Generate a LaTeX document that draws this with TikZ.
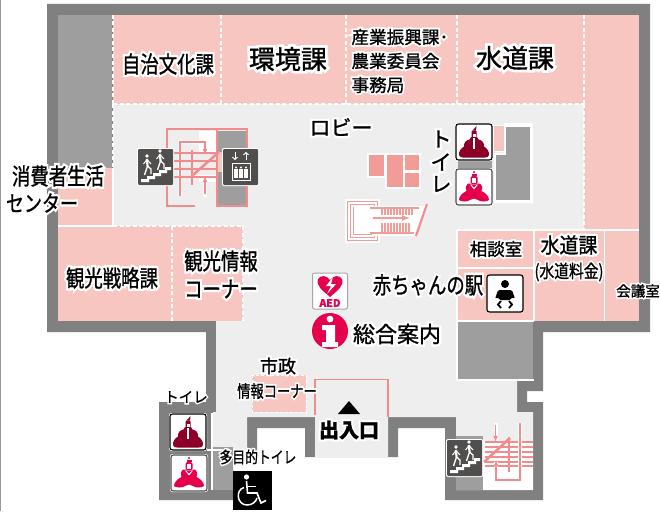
\documentclass[tikz,border=0pt]{standalone}
\usepackage{fontspec}
\usepackage{graphicx}
\setmainfont[FakeBold=1.2]{Noto Sans CJK JP}
\newfontfamily\halofont[FakeBold=22]{Noto Sans CJK JP}
\usetikzlibrary{arrows.meta}
\definecolor{wallc}{HTML}{808080}
\definecolor{roomg}{HTML}{9D9E9D}
\definecolor{pinkc}{HTML}{F8C6C1}
\definecolor{lobbyc}{HTML}{EEEEEE}
\definecolor{stairc}{HTML}{F28B8B}
\definecolor{blockc}{HTML}{F29C97}
\definecolor{icond}{HTML}{504F4D}
\definecolor{malec}{HTML}{8C0028}
\definecolor{femc}{HTML}{E6004C}
\newcommand\hl[1]{\leavevmode\rlap{\color{white}\halofont #1}#1}
\newcommand\hc[1]{\hl{\scalebox{.8}[1]{#1}}}
\newcommand\fs[1]{\fontsize{#1}{#1}\selectfont}
\tikzset{
  txt/.style={inner sep=0pt,outer sep=0pt,text=black,align=center},
  dashw/.style={white,line width=1.6pt,dash pattern=on 4pt off 2.5pt},
  solidw/.style={white,line width=1.8pt},
  stl/.style={stairc,line width=1.4pt},
  stk/.style={stairc,line width=2.6pt},
}
\newcommand\stairsicon[2]{\begin{scope}[shift={(#1,#2)}]
  \fill[white,rounded corners=2pt] (-1,-1) rectangle (36,37);
  \fill[icond,rounded corners=1pt] (0,0) rectangle (35,36);
  \fill[white] (3,33) -- (3,30) -- (9,30) -- (9,27) -- (15,27) -- (15,24) -- (21,24) -- (21,21) -- (27,21) -- (27,18) -- (33,18) -- (33,21) -- (29,21) -- (29,24) -- (23,24) -- (23,27) -- (17,27) -- (17,30) -- (11,30) -- (11,33) -- cycle;
  \foreach \px/\py in {9/7,22/2}{
    \fill[white] (\px,\py) circle (1.9);
    \draw[white,line width=2.2pt] (\px,\py+3) -- (\px+.5,\py+10);
    \draw[white,line width=1.3pt] (\px+.5,\py+10) -- (\px-2.5,\py+19);
    \draw[white,line width=1.3pt] (\px+.5,\py+10) -- (\px+4,\py+13) -- (\px+4,\py+18);
    \draw[white,line width=1pt] (\px-3.5,\py+8) -- (\px,\py+3.5) -- (\px+4,\py+8);
  }
\end{scope}}
\newcommand\eleicon[2]{\begin{scope}[shift={(#1,#2)}]
  \fill[white,rounded corners=2pt] (-1,-1) rectangle (36,37);
  \fill[icond,rounded corners=1pt] (0,0) rectangle (35,36);
  \draw[white,line width=1pt,-{Straight Barb[length=2.2pt,width=5pt]}] (12,3) -- (12,11);
  \draw[white,line width=1pt,-{Straight Barb[length=2.2pt,width=5pt]}] (23,11) -- (23,3);
  \draw[white,line width=1pt] (9,14.5) rectangle (27,31.5);
  \foreach \px in {13,18,23}{
    \fill[white] (\px,18.5) circle (1.2);
    \fill[white] (\px-1.6,20.3) rectangle (\px+1.6,29);
  }
\end{scope}}
\newcommand\maleicon[2]{\begin{scope}[shift={(#1,#2)}]
  \fill[white,rounded corners=2.5pt] (-1,-1) rectangle (37,37);
  \draw[black,line width=1.1pt,rounded corners=2.5pt] (0,0) rectangle (36,36);
  \fill[malec] (20.5,2) -- (16.5,6.5) -- (20,6.5) -- cycle;
  \fill[malec,rounded corners=1pt] (15.5,6.5) rectangle (20.5,14);
  \fill[white] (16.5,9.5) rectangle (19.5,13);
  \fill[malec] (15,13) -- (21,13) -- (22.5,15.5) .. controls (26,16) and (28.5,19) .. (28,22.5) .. controls (31,24) and (33.5,28) .. (33,31) .. controls (32.5,33) and (31,33.5) .. (29,33.5) -- (7,33.5) .. controls (5,33.5) and (3.5,33) .. (3,31) .. controls (2.5,28) and (5,24) .. (8,22.5) .. controls (7.5,19) and (10,16) .. (13.5,15.5) -- cycle;
  \draw[white,line width=.45pt] (17.3,14) -- (17.3,25);
  \draw[white,line width=.45pt] (18.7,14) -- (18.7,25);
\end{scope}}
\newcommand\femicon[2]{\begin{scope}[shift={(#1,#2)}]
  \fill[white,rounded corners=2.5pt] (-1,-1) rectangle (37,37);
  \draw[icond,line width=1.1pt,rounded corners=2.5pt] (0,0) rectangle (36,36);
  \fill[femc] (18,3) circle (1.2);
  \fill[femc] (15.5,4.5) rectangle (20.5,6.5);
  \fill[femc,rounded corners=1.5pt] (14.5,7) rectangle (21.5,15);
  \fill[white] (16,9) rectangle (20,14);
  \fill[femc] (12,14.5) -- (24,14.5) .. controls (26.5,17) and (27,20) .. (25.5,22) .. controls (29,23.5) and (33,27) .. (33,31) .. controls (30,33) and (25,33) .. (22,31) -- (18,29.5) -- (14,31) .. controls (11,33) and (6,33) .. (3,31) .. controls (3,27) and (7,23.5) .. (10.5,22) .. controls (9,20) and (9.5,17) .. (12,14.5) -- cycle;
  \fill[white] (14,15.5) -- (22,15.5) -- (18,20.5) -- cycle;
  \fill[femc] (15.8,16) -- (20.2,16) -- (18,18.5) -- cycle;
\end{scope}}
\begin{document}
\begin{tikzpicture}[x=1pt,y=-1pt]
\useasboundingbox (0,0) rectangle (660,511);
\fill[white] (0,0) rectangle (660,511);
\fill[gray!80] (0,0) rectangle (1,511);
% walls
\fill[wallc] (47,4) -- (650,4) -- (650,332) -- (543,332) -- (543,391) -- (527,391) -- (527,402) -- (543,402) -- (543,500) -- (445,500) -- (445,428) -- (398,428) -- (398,457) -- (305,457) -- (305,428) -- (257,428) -- (257,457) -- (233,457) -- (233,500) -- (159,500) -- (159,402) -- (206,402) -- (206,332) -- (47,332) -- cycle;
% lobby
\fill[lobbyc] (113,104) -- (584,104) -- (584,230) -- (458,230) -- (458,380) -- (517,380) -- (517,412) -- (533,412) -- (533,490) -- (456,490) -- (456,417) -- (388,417) -- (388,457) -- (315,457) -- (315,417) -- (247,417) -- (247,457) -- (233,457) -- (233,447) -- (213,447) -- (213,412) -- (216,412) -- (216,321) -- (243,321) -- (243,226) -- (113,226) -- cycle;
% pink rooms
\fill[pinkc] (113,15) rectangle (639,104);
\fill[pinkc] (584,104) rectangle (639,230);
\fill[pinkc] (58,168) rectangle (113,226);
\fill[pinkc] (58,226) rectangle (243,321);
\fill[pinkc] (458,231) rectangle (639,321);
\fill[roomg] (58,15) rectangle (112,168);
% storage
\fill[roomg] (458,322) rectangle (533,379);
\draw[solidw] (457,321) -- (534,321);
\draw[solidw] (457,321) -- (457,380) -- (534,380);
\fill[roomg] (213,447) rectangle (233,490);
\fill[roomg] (456,436) rectangle (483,490);
\fill[white] (483,441) rectangle (533,490);
% room dividers
\foreach \dx in {113,221,346,457,584}{\draw[dashw] (\dx,15) -- (\dx,104);}
\draw[dashw] (113,104) -- (584,104);
\draw[dashw] (113,104) -- (113,168);
\draw[dashw] (584,104) -- (584,230);
\draw[solidw] (113,168) -- (113,226);
\draw[solidw] (58,226) -- (113,226);
\draw[dashw] (113,226) -- (243,226) -- (243,321);
\draw[dashw] (172,226) -- (172,321);
\draw[solidw] (457,230) -- (639,230);
\draw[solidw] (457,230) -- (457,321);
\draw[solidw] (458,268) -- (534,268);
\draw[solidw] (534,230) -- (534,321);
\draw[solidw] (604.5,230) -- (604.5,321);
% core near toilets
\fill[white] (504,123) rectangle (533,153);
\fill[white] (494,153) rectangle (533,203);
\fill[roomg] (506,127) rectangle (530,155);
\fill[roomg] (496,155) rectangle (530,200);
\fill[pinkc,draw=white,line width=1pt] (493,125) rectangle (504,151);
\fill[roomg] (458,160) rectangle (492,169);
% info blocks
\fill[white] (367,153) rectangle (386,178);
\fill[white] (385,153) rectangle (421,189);
\fill[blockc] (369,155) rectangle (384,176);
\fill[blockc] (387,155) rectangle (403,187);
\fill[blockc] (405,155) rectangle (419,170);
\fill[blockc] (405,173) rectangle (419,187);
% upper-left stairs
\fill[roomg] (218,131) rectangle (246,205);
\fill[white] (199,131) rectangle (217,152);
\fill[white] (199,175) rectangle (217,182);
\fill[pinkc] (218,152) rectangle (223,172);
\draw[stairc,line width=2pt] (195,206) -- (167,206) -- (167,129) -- (247,129) -- (247,206) -- (217,206) -- (217,129);
\draw[white,line width=4pt] (180,196) -- (180,142) -- (205,142) -- (205,152);
\foreach \ly in {153,161,169,177}{\draw[stl] (173,\ly) -- (218,\ly);}
\draw[stl,-{Latex[length=6pt,width=5pt]}] (180,196) -- (180,142) -- (205,142) -- (205,155);
\draw[white,line width=4pt] (205,197) -- (205,178);
\draw[stl,-{Latex[length=6pt,width=5pt]}] (205,194) -- (205,176);
\draw[stk] (192,150) -- (192,185);
\draw[stk] (193,175) -- (219,152);
\stairsicon{138}{149}
\eleicon{223}{149}
% escalator
\fill[white] (345,199) rectangle (380,243);
\draw[blockc,line width=1pt] (347.5,201.5) rectangle (377.5,240.5);
\draw[blockc,line width=1pt] (350.5,204.5) rectangle (374.5,237.5);
\fill[white] (353,207) rectangle (374,234);
\draw[blockc,line width=1pt] (353,207) -- (353,234.5) -- (371.5,234.5);
\fill[white] (372,206) -- (425,206) -- (414,236) -- (372,236) -- cycle;
\draw[blockc,line width=2pt] (370,208) -- (419,208);
\draw[blockc,line width=2pt] (370,232.5) -- (414,232.5);
\foreach \tx in {382,385,...,412}{
  \draw[blockc,line width=1.2pt] (\tx,209) -- (\tx,215);
}
\foreach \tx in {382,385,...,409}{
  \draw[blockc,line width=1.2pt] (\tx,223) -- (\tx,232);
}
\draw[blockc,line width=1.2pt,-{Latex[length=8pt,width=6pt]}] (373,218) -- (410,218);
\draw[stairc,line width=2pt] (427,204) -- (416,236);
% entrance
\draw[stairc,line width=1.6pt] (315,415) -- (315,379.5) -- (388,379.5) -- (388,417);
\fill[black] (349,401) -- (360,414) -- (338,414) -- cycle;
% city info corner
\fill[pinkc] (252,375) rectangle (306,412);
\draw[white,line width=1pt,dash pattern=on 3pt off 2pt] (252,375) rectangle (306,412);
% lower-right stairs
\foreach \ly in {442,447,452,457,462,466}{\draw[stl] (485,\ly) -- (533,\ly);}
\draw[white,line width=4pt] (520,423) -- (520,480) -- (496,480) -- (496,462);
\draw[stl,-{Latex[length=6pt,width=5pt]}] (520,423) -- (520,480) -- (496,480) -- (496,460);
\draw[white,line width=4pt] (495.5,423) -- (495.5,441);
\draw[stl,-{Latex[length=6pt,width=5pt]}] (495.5,425) -- (495.5,442);
\draw[stk] (509,437) -- (509,472);
\draw[stk] (484,462) -- (510,438);
\stairsicon{447}{440}
% toilets lobby
\draw[solidw] (212,413) -- (212,490);
\draw[solidw] (207,450) -- (223,450);
\maleicon{456}{124}
\femicon{456}{169}
\maleicon{170}{414}
\femicon{171}{455}
% wheelchair
\fill[black] (233,471) rectangle (272,510);
\fill[white] (246.5,477) circle (2.6);
\draw[white,line width=1.6pt] (246.5,481) -- (247.5,493) -- (257,493) -- (261,503) -- (266,500.5);
\draw[white,line width=1.4pt] (248,486.5) -- (256,486.5);
\draw[white,line width=1.5pt] (244,487.5) .. controls (235,490) and (237,505) .. (247,505) .. controls (252,505) and (256,502) .. (257,498);
% baby icon
\fill[white,rounded corners=2.5pt] (487,275) rectangle (523,312);
\draw[black,line width=1.1pt,rounded corners=2.5pt] (487,275) rectangle (523,312);
\fill[black] (505,284) circle (4);
\fill[black,rounded corners=1.5pt] (495,299) -- (498,290) -- (512,290) -- (515,299) -- (511.5,297) -- (511,300) -- (499,300) -- (498.5,297) -- cycle;
\draw[black,line width=1.8pt] (501,301) -- (498,304.5) -- (501,308);
\draw[black,line width=1.8pt] (509,301) -- (512,304.5) -- (509,308);
% AED
\fill[white,rounded corners=2pt,draw=gray!70,line width=1pt] (312.5,273) rectangle (347.5,309);
\fill[femc] (330,297) .. controls (322,290) and (316,286) .. (318,279) .. controls (320,275) and (327,275) .. (330,280) .. controls (333,275) and (340,275) .. (342,279) .. controls (344,286) and (338,290) .. (330,297) -- cycle;
\fill[white] (333,277) -- (326,286) -- (331,286) -- (327,294) -- (336,284) -- (331,284) -- cycle;
\node[txt,text=femc,font=\bfseries\fontsize{10.5}{10.5}\selectfont] (aed) at (330,303) {AED};
% info
\fill[femc] (330,331) circle (18);
\fill[white] (330,319) circle (3.4);
\fill[white] (322,325) -- (335,325) -- (335,342) -- (338,342) -- (338,347) -- (322,347) -- (322,342) -- (326,342) -- (326,330) -- (322,330) -- cycle;
% labels
\node[txt,font=\fs{23}] (l1) at (168,64) {\hc{自治文化課}};
\node[txt,font=\fs{26}] (l2) at (288,59) {\hl{環境課}};
\node[txt,font=\fs{17.6},align=left,anchor=west] (l3a) at (351.5,37) {\hl{産業振興課･}};
\node[txt,font=\fs{17.6},anchor=west] (l3b) at (351.5,61) {\hl{農業委員会}};
\node[txt,font=\fs{17.6},anchor=west] (l3c) at (351.5,85) {\hl{事務局}};
\node[txt,font=\fs{26}] (l4) at (515,58) {\hl{水道課}};
\node[txt,font=\fs{21}] (l5) at (341,127) {\hl{ロビー}};
\node[txt,font=\fs{21}] (l6a) at (441,139) {\hl{ト}};
\node[txt,font=\fs{21}] (l6b) at (441,162) {\hl{イ}};
\node[txt,font=\fs{21}] (l6c) at (441,184) {\hl{レ}};
\node[txt,font=\fs{23}] (l7a) at (58,176) {\hc{消費者生活}};
\node[txt,font=\fs{22.5}] (l7b) at (42,203) {\hc{センター}};
\node[txt,font=\fs{23}] (l8) at (112,278) {\hc{観光戦略課}};
\node[txt,font=\fs{23}] (l9a) at (221,261) {\hc{観光情報}};
\node[txt,font=\fs{23}] (l9b) at (221,289) {\hc{コーナー}};
\node[txt,font=\fs{17.5}] (l10) at (496,249) {\hl{相談室}};
\node[txt,font=\fs{21}] (l11a) at (569,245) {\hl{\scalebox{.9}[1]{水道課}}};
\node[txt,font=\fs{18}] (l11b) at (569,272) {\hl{\scalebox{.82}[1]{(水道料金)}}};
\node[txt,font=\fs{14.5}] (l12) at (638,291) {\hl{会議室}};
\node[txt,font=\fs{23}] (l13) at (428,285) {\hc{赤ちゃんの駅}};
\node[txt,font=\fs{22}] (l14) at (397,334) {\hl{総合案内}};
\node[txt,font=\fs{18}] (l15a) at (278,366) {\hl{市政}};
\node[txt,font=\fs{17}] (l15b) at (277,391) {\hl{\scalebox{.78}[1]{情報コーナー}}};
\node[txt,font=\fs{14.5}] (l16) at (186,397) {\hl{トイレ}};
\node[txt,font=\fs{16}] (l17) at (258,457) {\hl{\scalebox{.8}[1]{多目的トイレ}}};
\node[txt,font=\bfseries\fs{20}] (l18) at (349,430) {\hl{出入口}};
\end{tikzpicture}
\end{document}
